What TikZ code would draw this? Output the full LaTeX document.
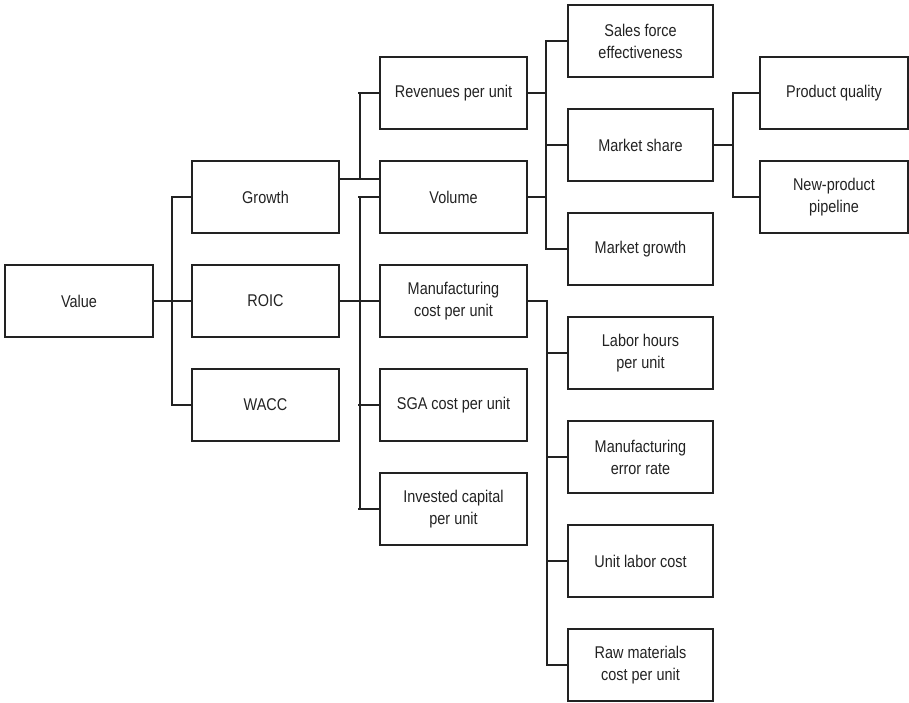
\documentclass[tikz,border=0pt]{standalone}
\usepackage{fontspec}
\setmainfont{Liberation Sans}[FakeStretch=0.85]
\definecolor{ink}{HTML}{222222}
\begin{document}
\begin{tikzpicture}[x=1pt,y=-1pt,
  box/.style={draw=ink, line width=1.6pt, minimum width=147pt, minimum height=72pt,
    inner sep=0pt, align=center, text=ink, font=\fontsize{17}{22}\selectfont},
  conn/.style={draw=ink, line width=1.6pt}]
\useasboundingbox (0,0) rectangle (909,702);
% column 1
\node[box, minimum width=148pt] (value) at (79,301) {Value};
% column 2
\node[box] (growth) at (265.5,197) {Growth};
\node[box] (roic) at (265.5,301) {ROIC};
\node[box] (wacc) at (265.5,405) {WACC};
% column 3
\node[box] (rev) at (453.5,93) {Revenues per unit};
\node[box] (vol) at (453.5,197) {Volume};
\node[box] (manuf) at (453.5,301) {Manufacturing\\cost per unit};
\node[box] (sga) at (453.5,405) {SGA cost per unit};
\node[box] (inv) at (453.5,509) {Invested capital\\per unit};
% column 4
\node[box, minimum width=145pt] (sales) at (640.5,41) {Sales force\\effectiveness};
\node[box, minimum width=145pt] (mshare) at (640.5,145) {Market share};
\node[box, minimum width=145pt] (mgrowth) at (640.5,249) {Market growth};
\node[box, minimum width=145pt] (labor) at (640.5,353) {Labor hours\\per unit};
\node[box, minimum width=145pt] (error) at (640.5,457) {Manufacturing\\error rate};
\node[box, minimum width=145pt] (ulabor) at (640.5,561) {Unit labor cost};
\node[box, minimum width=145pt] (raw) at (640.5,665) {Raw materials\\cost per unit};
% column 5
\node[box, minimum width=148pt] (pq) at (834,93) {Product quality};
\node[box, minimum width=148pt] (npp) at (834,197) {New-product\\pipeline};
% bus coordinates
\coordinate (b1) at (172,0);
\coordinate (b2) at (360,0);
\coordinate (b3) at (546,0);
\coordinate (b4) at (733,0);
\coordinate (b5) at (547,0);
\coordinate (g1) at (339,179);
% Value
\draw[conn] (value.east) -- (roic.west);
\draw[conn] (growth.west) -- (growth.west -| b1) -- (wacc.west -| b1) -- (wacc.west);
% Growth
\draw[conn] (g1) -- (g1 -| vol.west);
\draw[conn] (g1 -| b2) -- (rev.west -| b2) -- ++(-2,0);
\draw[conn] (rev.west -| b2) -- (rev.west);
% ROIC
\draw[conn] (roic.east) -- (manuf.west);
\draw[conn] ([xshift=-2pt]vol.west -| b2) -- (vol.west);
\draw[conn] (vol.west -| b2) -- (inv.west -| b2);
\draw[conn] ([xshift=-2pt]sga.west -| b2) -- (sga.west);
\draw[conn] ([xshift=-2pt]inv.west -| b2) -- (inv.west);
% Revenues / Volume
\draw[conn] (rev.east) -- (rev.east -| b3);
\draw[conn] (vol.east) -- (vol.east -| b3);
\draw[conn] (sales.west) -- (sales.west -| b3) -- (mgrowth.west -| b3) -- (mgrowth.west);
\draw[conn] (mshare.west -| b3) -- (mshare.west);
% Market share
\draw[conn] (mshare.east) -- (mshare.east -| b4);
\draw[conn] (pq.west) -- (pq.west -| b4) -- (npp.west -| b4) -- (npp.west);
% Manufacturing
\draw[conn] (manuf.east) -- (manuf.east -| b5) -- (raw.west -| b5) -- (raw.west);
\draw[conn] (labor.west -| b5) -- (labor.west);
\draw[conn] (error.west -| b5) -- (error.west);
\draw[conn] (ulabor.west -| b5) -- (ulabor.west);
\end{tikzpicture}
\end{document}
